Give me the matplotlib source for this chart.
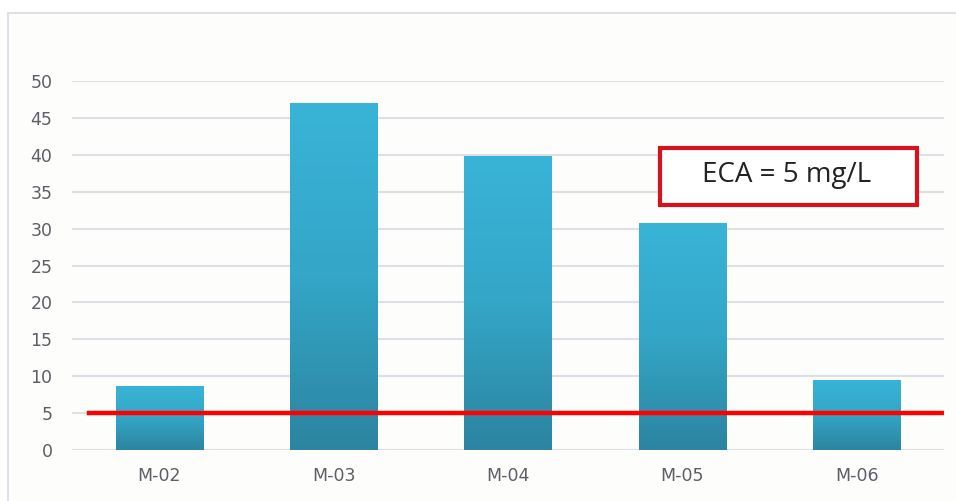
import numpy as np
import matplotlib
matplotlib.use("Agg")
import matplotlib.pyplot as plt
from matplotlib.colors import LinearSegmentedColormap
from matplotlib.patches import Rectangle

# Sample points and measured concentrations (mg/L)
stations = ["M-02", "M-03", "M-04", "M-05", "M-06"]
values = [8.7, 47.0, 39.9, 30.7, 9.5]
eca_limit = 5
eca_label = "ECA = 5 mg/L"
y_ticks = [0, 5, 10, 15, 20, 25, 30, 35, 40, 45, 50]

fig = plt.figure(figsize=(9.56, 5.01), dpi=100)
fig.patch.set_facecolor("white")

# light chart frame behind everything
frame = Rectangle((0.008, -0.02), 1.02, 0.995, transform=fig.transFigure,
                  facecolor="#fdfdfb", edgecolor="#dcdde3", linewidth=1.3,
                  zorder=-10)
fig.patches.append(frame)

ax = fig.add_axes([0.0753, 0.1018, 0.912, 0.7365], zorder=5)
ax.set_facecolor("none")

for s in ax.spines.values():
    s.set_visible(False)

ax.set_yticks(y_ticks)
ax.yaxis.grid(True, color="#dde0e6", linewidth=1.5, zorder=0)
ax.set_axisbelow(True)
ax.tick_params(axis="both", length=0, labelsize=12.5, colors="#5e5e68")
ax.tick_params(axis="y", pad=14)
ax.tick_params(axis="x", pad=12)

# bars with a vertical gradient (light cyan at top, teal at bottom)
cmap = LinearSegmentedColormap.from_list("bar", ["#2c84a0", "#34a6c7", "#39b4d7"])
grad = np.linspace(0, 1, 256).reshape(-1, 1)
bars = ax.bar(range(len(stations)), values, width=0.5, color="none",
              edgecolor="none", zorder=2)
for bar in bars:
    x0, w, h = bar.get_x(), bar.get_width(), bar.get_height()
    im = ax.imshow(grad, cmap=cmap, aspect="auto", origin="lower",
                   extent=(x0, x0 + w, 0, h), zorder=2)
    im.set_clip_path(bar)
ax.set_xlim(-0.5, len(stations) - 0.5)
ax.set_ylim(0, 50)
ax.set_xticks(range(len(stations)))
ax.set_xticklabels(stations)
for lbl in ax.get_yticklabels() + ax.get_xticklabels():
    lbl.set_fontfamily("DejaVu Sans")

# ECA reference line
ax.axhline(eca_limit, xmin=0.02, xmax=1.0, color="#ff0000", linewidth=3.2,
           zorder=4)

# ECA label box
box = Rectangle((2.87, 33.2), 1.475, 7.7, facecolor="white",
                edgecolor="#d6131c", linewidth=3, zorder=5)
ax.add_patch(box)
ax.text(3.6, 37.2, eca_label, fontsize=20, color="#222222",
        family="Open Sans", ha="center", va="center", zorder=6)

fig.savefig("out.png", dpi=100, facecolor="white")
